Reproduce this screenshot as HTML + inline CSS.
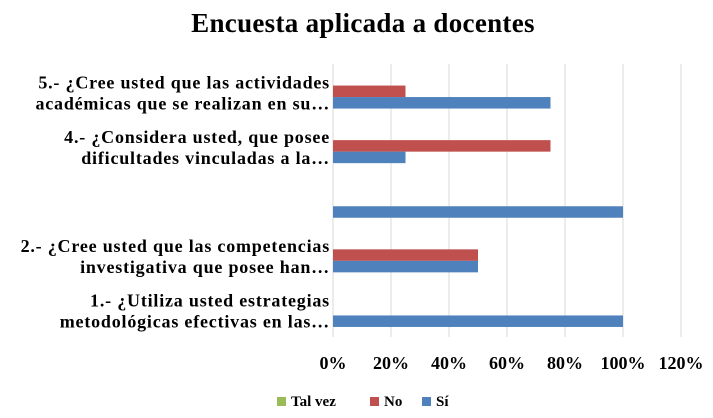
<!DOCTYPE html>
<html><head><meta charset="utf-8">
<style>
body{margin:0;background:#fff;width:713px;height:413px;overflow:hidden;font-family:"Liberation Serif",serif;}
</style></head>
<body>
<svg id="chart" width="713" height="413" xmlns="http://www.w3.org/2000/svg"></svg>
<script>
const categories = ["1.- ¿Utiliza usted estrategias|metodológicas efectivas en las…","2.- ¿Cree usted que las competencias|investigativa que posee han…","","4.- ¿Considera usted, que posee|dificultades vinculadas a la…","5.- ¿Cree usted que las actividades|académicas que se realizan en su…"];
const siValues = [100, 50, 100, 25, 75];
const noValues = [0, 50, 0, 75, 25];
const talVezValues = [0, 0, 0, 0, 0];
const tickLabels = ["0%","20%","40%","60%","80%","100%","120%"];
const tickValues = [0,20,40,60,80,100,120];

const svg = document.getElementById('chart');
const NS = "http://www.w3.org/2000/svg";
const x0 = 333, x1 = 681, yTop = 64, yBot = 337;
const xScale = v => x0 + (v/120)*(x1-x0);
const band = (yBot-yTop)/categories.length;
const bandCenter = i => yBot - band*(i+0.5);
const barH = 11.5;
function el(tag, attrs, text){const e=document.createElementNS(NS,tag);for(const k in attrs)e.setAttribute(k,attrs[k]);if(text!==undefined)e.textContent=text;svg.appendChild(e);return e;}

const title = el('text',{x:363,y:32,'text-anchor':'middle','font-size':27,'font-weight':'bold','font-family':'Liberation Serif, serif','letter-spacing':0.3},'Encuesta aplicada a docentes');



tickValues.forEach((t,i)=>{
  const g = el('line',{x1:xScale(t),x2:xScale(t),y1:yTop,y2:yBot,stroke:'#d9d9d9','stroke-width':1});
  
  
  const l = el('text',{x:xScale(t),y:369,'text-anchor':'middle','font-size':18,'font-weight':'bold','font-family':'Liberation Serif, serif'},tickLabels[i]);
  
  
});

categories.forEach((c,i)=>{
  const cy = bandCenter(i);
  const tv = el('rect',{x:x0,y:cy-barH*1.5,width:xScale(talVezValues[i])-x0,height:barH,fill:'#9bbb59'});
  
  
  const no = el('rect',{x:x0,y:cy-barH*0.5,width:xScale(noValues[i])-x0,height:barH,fill:'#c0504d'});
  
  
  const si = el('rect',{x:x0,y:cy+barH*0.5,width:xScale(siValues[i])-x0,height:barH,fill:'#4f81bd'});
  
  
  if(c){
    const lines = c.split('|');
    lines.forEach((ln,j)=>{
      const t = el('text',{x:330,y:cy-3+j*21,'text-anchor':'end','font-size':18,'font-weight':'bold','font-family':'Liberation Serif, serif','letter-spacing':0.8},ln);
      
      
    });
  }
});

const legend = [["Tal vez","#9bbb59",277],["No","#c0504d",370],["Sí","#4f81bd",422]];
legend.forEach(l=>{
  const r = el('rect',{x:l[2],y:397,width:9,height:9,fill:l[1]});
  
  
  const t = el('text',{x:l[2]+14,y:406,'font-size':15,'font-weight':'bold','font-family':'Liberation Serif, serif'},l[0]);
  
  
});
</script>
</body></html>
